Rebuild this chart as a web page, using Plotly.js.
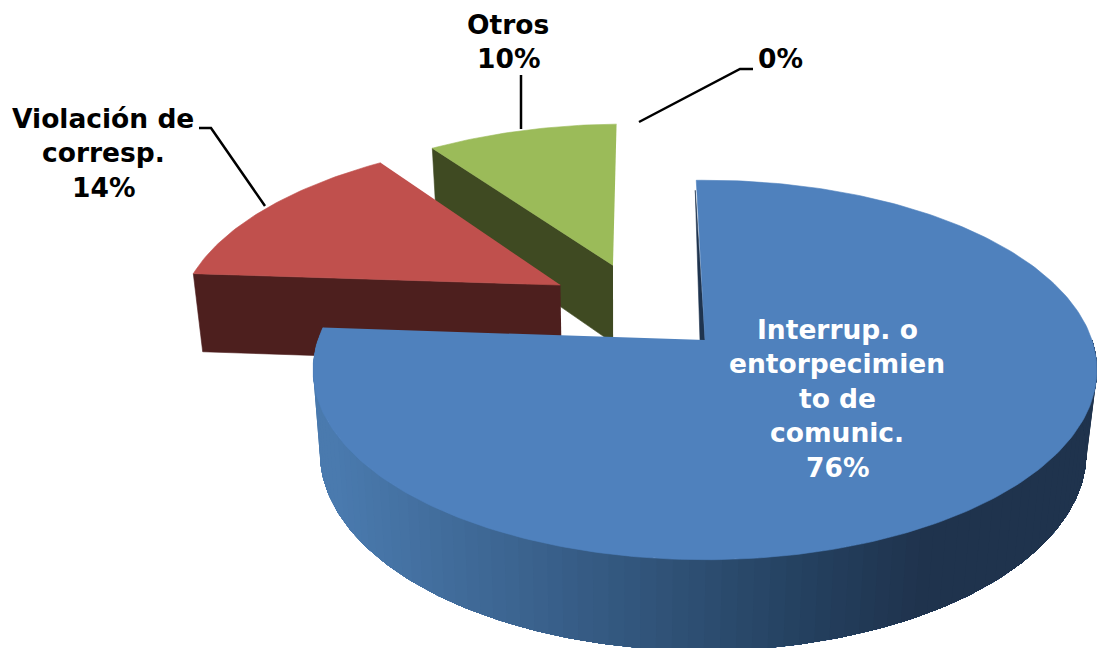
<!DOCTYPE html>
<html><head><meta charset="utf-8">
<script src="https://cdn.plot.ly/plotly-3.0.1.min.js"></script>
<style>html,body{margin:0;padding:0;background:#fff}#c{width:1097px;height:648px}</style>
</head><body><div id="c"></div>
<script>
// Data
const sliceNames = [["Interrup. o", "entorpecimien", "to de", "comunic."], ["Violación de", "corresp."], ["Otros"], []];
const sliceValues = [76.5, 13.9, 9.6, 0];
const sliceLabels = ["76%", "14%", "10%", "0%"];

// Appearance
const topColors = ["#4F81BD", "#C0504D", "#9BBB59"];
const wallColors = [null, "#4D1F1E", "#3F4A22"];
const explode = [[0, 0], [-0.392, -0.3115], [-0.254, -0.431]];
const radiusScale = [1, 1.012, 1];
const labelAt = [[837, 329], [103, 118], [508, 24], [780, 58]];
const labelColor = ["#ffffff", "#000000", "#000000", "#000000"];
const lineStep = 34.5;
const startAngle = -1.5;

// Perspective model of a tilted disc
const cx = 705, cy = 340, s = 387, t = 185, p = 0.158;
const vx = 620, shrink = 0.022;
function project(u, v) {
  const d = 1 - p * v;
  return [cx + u * s / d, cy + v * t / d];
}
function rim(angle, off, scale) {
  const r = angle * Math.PI / 180, k = scale || 1;
  return project(k * Math.sin(r) + off[0], -k * Math.cos(r) + off[1]);
}
function drop(pt) {
  return [pt[0] + (vx - pt[0]) * shrink, pt[1] + 78 + (pt[1] - 271) * 0.045];
}
function poly(pts, color, width) {
  return {
    type: "scatter", mode: "lines", fill: "toself", fillcolor: color,
    x: pts.map(q => q[0]), y: pts.map(q => q[1]),
    line: {color: color, width: width === undefined ? 0.6 : width},
    hoverinfo: "skip", showlegend: false
  };
}
function mix(a, b, f) {
  const pa = [parseInt(a.slice(1,3),16), parseInt(a.slice(3,5),16), parseInt(a.slice(5,7),16)];
  const pb = [parseInt(b.slice(1,3),16), parseInt(b.slice(3,5),16), parseInt(b.slice(5,7),16)];
  return "rgb(" + pa.map((c,i) => Math.round(c + (pb[i]-c)*f)).join(",") + ")";
}

const total = sliceValues.reduce((a,b) => a+b, 0);
const spans = [];
let ang = startAngle;
sliceValues.forEach(v => { spans.push([ang, ang + v / total * 360]); ang += v / total * 360; });

function topFace(i) {
  const [a, b] = spans[i], off = explode[i], pts = [project(off[0], off[1])];
  const n = Math.max(8, Math.ceil(b - a));
  for (let k = 0; k <= n; k++) pts.push(rim(a + (b - a) * k / n, off, radiusScale[i]));
  return pts;
}
function edgeWall(i, angle) {
  const off = explode[i], a = project(off[0], off[1]), b = rim(angle, off, radiusScale[i]);
  return [a, b, drop(b), drop(a)];
}

const traces = [];
// Green slice
traces.push(poly(edgeWall(2, spans[2][0]), wallColors[2]));
traces.push(poly(topFace(2), topColors[2]));
// Red slice
traces.push(poly(edgeWall(1, spans[1][0]), wallColors[1]));
traces.push(poly(topFace(1), topColors[1]));
// Blue slice: thin inner wall on its starting edge
const apex = project(0, 0), outer = rim(spans[0][0], [0, 0]);
traces.push(poly([apex, [outer[0] - 1, outer[1] + 10], [apex[0] - 5, apex[1]]], "#1F344F"));
// Blue slice: outer wall, each band painted over the rest of the sweep so no seams show
const wallEnd = spans[0][1], wallStart = 90, segs = 90;
for (let k = 0; k < segs; k++) {
  const a0 = wallEnd - (wallEnd - wallStart) * k / segs;
  const n = 2 * (segs - k);
  const pts = [];
  for (let m = 0; m <= n; m++) pts.push(rim(a0 + (wallStart - a0) * m / n, [0, 0]));
  for (let m = n; m >= 0; m--) pts.push(drop(rim(a0 + (wallStart - a0) * m / n, [0, 0])));
  const xm = pts[0][0];
  let color;
  if (xm < 800) color = mix("#4A7AAE", "#24405F", Math.max(0, (xm - 330) / 470));
  else color = mix("#24405F", "#1F334D", Math.min(1, (xm - 800) / 120));
  traces.push(poly(pts, color, 0));
}
traces.push(poly(topFace(0), topColors[0]));

const annotations = [];
sliceLabels.forEach((lab, i) => {
  sliceNames[i].concat([lab]).forEach((line, j) => {
    annotations.push({
      x: labelAt[i][0], y: labelAt[i][1] + j * lineStep, xref: "x", yref: "y",
      text: line, showarrow: false, xanchor: "center", yanchor: "middle", align: "center",
      font: {family: "'DejaVu Sans', sans-serif", size: 26.5, color: labelColor[i], weight: 700}
    });
  });
});

const leaderLine = {color: "#000000", width: 2.5};
const shapes = [
  {type: "path", path: "M199,128 L211,128 L265,206", line: leaderLine},
  {type: "path", path: "M521,75 L521,129", line: leaderLine},
  {type: "path", path: "M753,69 L740,69 L639,122", line: leaderLine}
].map(q => Object.assign(q, {xref: "x", yref: "y", layer: "above"}));

const hidden = {visible: false, fixedrange: true};
Plotly.newPlot("c", traces, {
  width: 1097, height: 648,
  margin: {l: 0, r: 0, t: 0, b: 0, pad: 0},
  paper_bgcolor: "#ffffff", plot_bgcolor: "#ffffff",
  showlegend: false,
  xaxis: Object.assign({range: [0, 1097]}, hidden),
  yaxis: Object.assign({range: [648, 0]}, hidden),
  annotations, shapes
}, {displayModeBar: false, staticPlot: true});
</script></body></html>
